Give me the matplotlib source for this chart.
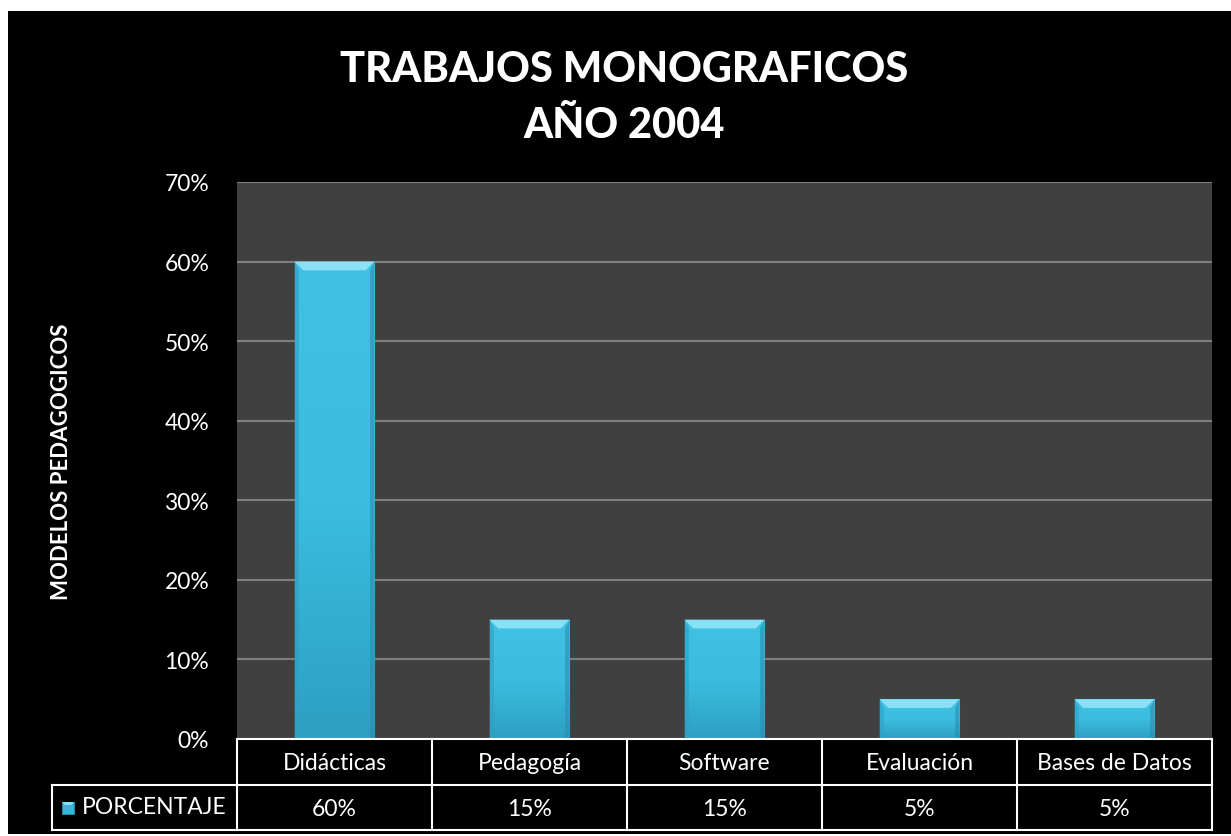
import matplotlib
matplotlib.use("Agg")
import matplotlib.pyplot as plt
from matplotlib.patches import Rectangle, Polygon
from matplotlib.colors import LinearSegmentedColormap
import numpy as np

categories = ["Didácticas", "Pedagogía", "Software", "Evaluación", "Bases de Datos"]
values = [0.60, 0.15, 0.15, 0.05, 0.05]
value_labels = ["60%", "15%", "15%", "5%", "5%"]
series_name = "PORCENTAJE"
yticks = [0, 0.1, 0.2, 0.3, 0.4, 0.5, 0.6, 0.7]
title = "TRABAJOS MONOGRAFICOS\nAÑO 2004"
ylabel = "MODELOS PEDAGOGICOS"

plt.rcParams['font.family'] = ['Lato', 'DejaVu Sans']

W, H = 1231, 837
fig = plt.figure(figsize=(W / 100, H / 100), dpi=100, facecolor='white')

def fx(px):
    return px / W

def fy(py):
    return 1 - py / H

# black chart area
bg = Rectangle((fx(8), fy(835)), fx(1231) - fx(8), fy(12) - fy(835),
               transform=fig.transFigure, facecolor='black', edgecolor='none', zorder=-10)
fig.patches.append(bg)

L, R, T, B = 237, 1212, 183, 740
ax = fig.add_axes([fx(L), fy(B), fx(R) - fx(L), fy(T) - fy(B)], zorder=1)
ax.set_facecolor('#404040')
ax.set_xlim(-0.5, len(categories) - 0.5)
ax.set_ylim(0, 0.7)
ax.set_yticks(yticks)
ax.set_yticklabels([f"{int(round(t * 100))}%" for t in yticks], color='white', fontsize=16.5)
ax.tick_params(axis='y', length=0, pad=20)
ax.set_xticks([])
for s in ax.spines.values():
    s.set_visible(False)
ax.grid(axis='y', color='#7f7f7f', linewidth=1.5)
ax.set_axisbelow(True)

x = np.arange(len(categories))
bw = 0.41
bars = ax.bar(x, values, width=bw, color='#3ab9dd', edgecolor='#2b8fae', linewidth=0.8, zorder=2)

grad = np.linspace(0, 1, 256).reshape(-1, 1)
cmap = LinearSegmentedColormap.from_list('b', ['#2d9fc1', '#3bbde0', '#40c2e4'])
for b in bars:
    x0, w, h = b.get_x(), b.get_width(), b.get_height()
    im = ax.imshow(grad, extent=(x0, x0 + w, 0, h), origin='lower', cmap=cmap,
                   aspect='auto', zorder=2.1)
    im.set_clip_path(b)
    dx = 0.045
    dy = 0.011
    top = Polygon([(x0, h), (x0 + w, h), (x0 + w - dx, h - dy), (x0 + dx, h - dy)],
                  closed=True, facecolor='#8ae0f5', edgecolor='none', zorder=2.2)
    ax.add_patch(top)
    side_l = Polygon([(x0, h), (x0 + dx * 0.5, h - dy), (x0 + dx * 0.5, 0), (x0, 0)],
                     closed=True, facecolor='#2f9fc2', edgecolor='none', zorder=2.15, alpha=0.6)
    side_r = Polygon([(x0 + w, h), (x0 + w - dx * 0.5, h - dy), (x0 + w - dx * 0.5, 0), (x0 + w, 0)],
                     closed=True, facecolor='#2a8db0', edgecolor='none', zorder=2.15, alpha=0.6)
    ax.add_patch(side_l)
    ax.add_patch(side_r)
ax.set_xlim(-0.5, len(categories) - 0.5)
ax.set_ylim(0, 0.7)

# title & ylabel
fig.text(fx(624), fy(98), title, ha='center', va='center', color='white',
         fontsize=30, fontweight='black', linespacing=1.6)
fig.text(fx(62), fy(462), ylabel, ha='center', va='center', color='white',
         fontsize=16, fontweight='bold', rotation=90)

# data table
row1_top, row_mid, row_bot = 740, 786, 831
col_w = (R - L) / len(categories)
lw = 1.5
def hline(x0, x1, y):
    fig.add_artist(plt.Line2D([fx(x0), fx(x1)], [fy(y), fy(y)], color='white', lw=lw,
                              transform=fig.transFigure))
def vline(xp, y0, y1):
    fig.add_artist(plt.Line2D([fx(xp), fx(xp)], [fy(y0), fy(y1)], color='white', lw=lw,
                              transform=fig.transFigure))

hline(L, R, row1_top)
hline(52, R, row_mid)
hline(52, R, row_bot)
vline(52, row_mid, row_bot)
for i in range(len(categories) + 1):
    vline(L + i * col_w, row1_top, row_bot)
for i, (c, v) in enumerate(zip(categories, value_labels)):
    cx = L + (i + 0.5) * col_w
    fig.text(fx(cx), fy((row1_top + row_mid) / 2 + 1), c, ha='center', va='center',
             color='white', fontsize=16.5)
    fig.text(fx(cx), fy((row_mid + row_bot) / 2 + 1), v, ha='center', va='center',
             color='white', fontsize=16.5)

# legend key
fig.patches.append(Rectangle((fx(62), fy(815)), fx(74) - fx(62), fy(803) - fy(815),
                             transform=fig.transFigure, facecolor='#38b6da',
                             edgecolor='#2b8fae', lw=0.6))
fig.patches.append(Polygon([(fx(62), fy(803)), (fx(74), fy(803)), (fx(71), fy(806)), (fx(65), fy(806))],
                           closed=True, transform=fig.transFigure, facecolor='#8ae0f5', edgecolor='none'))
fig.text(fx(82), fy(808), series_name, ha='left', va='center', color='white', fontsize=16.5)

fig.savefig('out.png', dpi=100, facecolor='white')
